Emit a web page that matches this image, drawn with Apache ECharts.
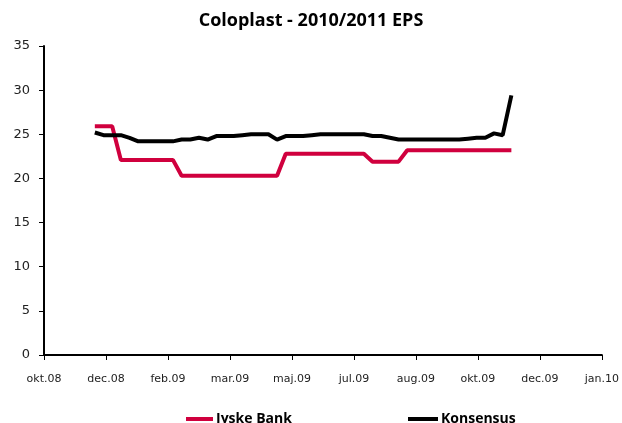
<!DOCTYPE html>
<html>
<head>
<meta charset="utf-8">
<script src="https://cdn.jsdelivr.net/npm/echarts@6/dist/echarts.min.js"></script>
<style>
html,body{margin:0;padding:0;background:#fff;}
#chart{width:622px;height:423px;}
</style>
</head>
<body>
<div id="chart"></div>
<script>
// Axis origin date (first x tick) and tick spacing in days
const axisStart = '2008-10-29';
const tickLabels = ['okt.08','dec.08','feb.09','mar.09','maj.09','jul.09','aug.09','okt.09','dec.09','jan.10'];

const dates = [
  '2008-12-09','2008-12-16','2008-12-23','2008-12-30','2009-01-06','2009-01-13','2009-01-20','2009-01-27',
  '2009-02-03','2009-02-10','2009-02-17','2009-02-24','2009-03-03','2009-03-10','2009-03-17','2009-03-24',
  '2009-03-31','2009-04-07','2009-04-14','2009-04-21','2009-04-28','2009-05-05','2009-05-12','2009-05-19',
  '2009-05-26','2009-06-02','2009-06-09','2009-06-16','2009-06-23','2009-06-30','2009-07-07','2009-07-14',
  '2009-07-21','2009-07-28','2009-08-04','2009-08-11','2009-08-18','2009-08-25','2009-09-01','2009-09-08',
  '2009-09-15','2009-09-22','2009-09-29','2009-10-06','2009-10-13','2009-10-20','2009-10-27','2009-11-03',
  '2009-11-10'
];

const jyskeBank = [
  25.9,25.9,25.9,22.1,22.1,22.1,22.1,22.1,
  22.1,22.1,20.3,20.3,20.3,20.3,20.3,20.3,
  20.3,20.3,20.3,20.3,20.3,20.3,22.8,22.8,
  22.8,22.8,22.8,22.8,22.8,22.8,22.8,22.8,
  21.9,21.9,21.9,21.9,23.2,23.2,23.2,23.2,
  23.2,23.2,23.2,23.2,23.2,23.2,23.2,23.2,
  23.2
];

const konsensus = [
  25.2,24.9,24.9,24.9,24.6,24.2,24.2,24.2,
  24.2,24.2,24.4,24.4,24.6,24.4,24.8,24.8,
  24.8,24.9,25.0,25.0,25.0,24.4,24.8,24.8,
  24.8,24.9,25.0,25.0,25.0,25.0,25.0,25.0,
  24.8,24.8,24.6,24.4,24.4,24.4,24.4,24.4,
  24.4,24.4,24.4,24.5,24.6,24.6,25.1,24.9,
  29.4
];

const DAY = 86400000;
function dayOffset(s){ return Math.round((Date.parse(s + 'T00:00:00Z') - Date.parse(axisStart + 'T00:00:00Z')) / DAY); }
const xs = dates.map(dayOffset);
const tickDays = 50;

const red = '#D0003E';
const legendText = { fontFamily: 'Open Sans', fontWeight: 'bold', fontSize: 14, color: '#000', padding: [0,0,0,-2] };
const chart = echarts.init(document.getElementById('chart'));
chart.setOption({
  animation: false,
  backgroundColor: '#fff',
  title: {
    text: 'Coloplast - 2010/2011 EPS',
    left: 'center', top: 7,
    textStyle: { fontFamily: 'Open Sans', fontWeight: 'bold', fontSize: 18, color: '#000' }
  },
  grid: { left: 44, right: 20, top: 46, bottom: 68 },
  legend: [
    {
      data: ['Jyske Bank'], left: 181, top: 407, icon: 'rect',
      itemWidth: 27, itemHeight: 4, textStyle: legendText
    },
    {
      data: ['Konsensus'], left: 403, top: 407, icon: 'rect',
      itemWidth: 30, itemHeight: 4, textStyle: legendText
    }
  ],
  xAxis: {
    type: 'value', min: 0, max: tickDays * (tickLabels.length - 1), interval: tickDays,
    splitLine: { show: false },
    axisLine: { lineStyle: { color: '#000', width: 2 } },
    axisTick: { show: true, length: 5, lineStyle: { color: '#000', width: 1 } },
    axisLabel: {
      margin: 19, fontFamily: 'DejaVu Sans', fontSize: 11, color: '#222',
      formatter: v => tickLabels[Math.round(v / tickDays)] || ''
    }
  },
  yAxis: {
    type: 'value', min: 0, max: 35, interval: 5,
    splitLine: { show: false },
    axisLine: { show: true, lineStyle: { color: '#000', width: 2 } },
    axisTick: { show: true, length: 5, lineStyle: { color: '#000', width: 1 } },
    axisLabel: { margin: 14, fontFamily: 'DejaVu Sans', fontSize: 13, color: '#222' }
  },
  series: [
    {
      name: 'Jyske Bank', type: 'line', showSymbol: false,
      color: red, lineStyle: { color: red, width: 4 },
      data: xs.map((x, i) => [x, jyskeBank[i]])
    },
    {
      name: 'Konsensus', type: 'line', showSymbol: false,
      color: '#000', lineStyle: { color: '#000', width: 4 },
      data: xs.map((x, i) => [x, konsensus[i]])
    }
  ]
});
</script>
</body>
</html>
